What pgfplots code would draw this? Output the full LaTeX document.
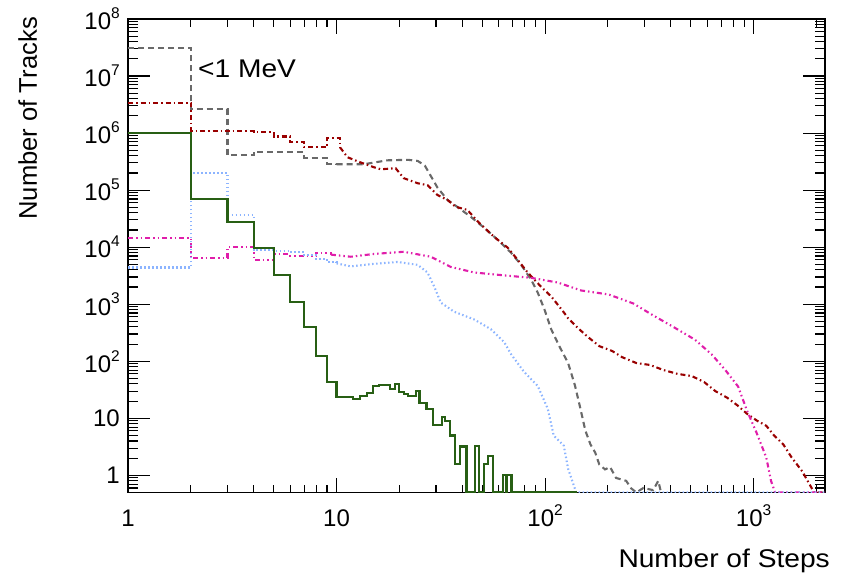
\documentclass[border=0pt]{standalone}
\usepackage{fontspec}
\setmainfont{Liberation Sans}
\newfontfamily\labelfont{Liberation Sans}[FakeStretch=1.1]
\usepackage{pgfplots}
\pgfplotsset{compat=1.18}
\newcommand\ex[1]{10\raisebox{0.46em}{\fontsize{15.5bp}{15.5bp}\selectfont #1}}
\newcommand\ticksize{\fontsize{24bp}{24bp}\selectfont}
\newcommand\labsize{\fontsize{25.6bp}{25.6bp}\selectfont}
\definecolor{cgray}{RGB}{105,105,105}
\definecolor{cred}{RGB}{153,0,0}
\definecolor{cmag}{RGB}{224,30,170}
\definecolor{cblue}{RGB}{140,180,255}
\definecolor{cgreen}{RGB}{40,95,20}
\begin{document}
\begin{tikzpicture}
\begin{axis}[name=ax, at={(0,0)}, anchor=south west, scale only axis,
  width=697bp, height=473.5bp,
  xmode=log, ymode=log, xmin=1, xmax=2200, ymin=0.5, ymax=1e8,
  xtick={1,10,100,1000}, xticklabels={1,10,\ex{2},\ex{3}},
  minor xtick={2,3,4,5,6,7,8,9,20,30,40,50,60,70,80,90,200,300,400,500,600,700,800,900,2000},
  ytick={1,10,100,1e3,1e4,1e5,1e6,1e7,1e8},
  yticklabels={1,10,\ex{2},\ex{3},\ex{4},\ex{5},\ex{6},\ex{7},\ex{8}},
  minor ytick={0.6,0.7,0.8,0.9,2,3,4,5,6,7,8,9,20,30,40,50,60,70,80,90,200,300,400,500,600,700,800,900,
    2e3,3e3,4e3,5e3,6e3,7e3,8e3,9e3,2e4,3e4,4e4,5e4,6e4,7e4,8e4,9e4,2e5,3e5,4e5,5e5,6e5,7e5,8e5,9e5,
    2e6,3e6,4e6,5e6,6e6,7e6,8e6,9e6,2e7,3e7,4e7,5e7,6e7,7e7,8e7,9e7},
  tick align=inside,
  axis line style={line width=1.3bp},
  every tick/.style={black, line width=1.1bp},
  xtick style={/pgfplots/major tick length=15bp,/pgfplots/minor tick length=8bp},
  ytick style={/pgfplots/major tick length=22bp,/pgfplots/minor tick length=10bp},
  xticklabel style={font=\ticksize, anchor=base, inner sep=0pt, yshift=-34bp},
  yticklabel style={font=\ticksize, anchor=east, inner sep=0pt, xshift=-8bp},
]
% gray dashed
\addplot[const plot, cgray, line width=2.1bp, dash pattern=on 6bp off 4bp] coordinates {
(1,3.1e7)(2,2.6e6)(3,4.1e5)(4,4.7e5)(5,4.6e5)(7,3.7e5)(9,2.9e5)(10,2.84e5)};
\addplot[sharp plot, cgray, line width=2.1bp, dash pattern=on 6bp off 4bp] coordinates {
(10,2.84e5)(13.5,2.84e5)(17.5,3.33e5)(22,3.4e5)(24.5,3.25e5)(26.5,2.7e5)(28,1.9e5)(29.4,1.4e5)(30.5,1.1e5)
(34.1,6.7e4)(38,5.06e4)(44.1,3.39e4)(51.1,2.18e4)(59.2,1.35e4)(68.7,7.98e3)(76.7,4.93e3)(85.7,2.7e3)
(92.2,1.6e3)(99.3,811)(107,364)(117,184)(129,93)(139,38)(147,16)(156,6.1)(165,3.5)(174,2.5)(182,1.55)
(194,1.27)(205,1.4)(219,0.9)(245,0.8)(259,0.59)(274,0.5)(296,0.6)(330,0.55)(349,0.8)(360,0.5)};
% dark red dash-dot
\addplot[const plot, cred, line width=2.1bp, dash pattern=on 5bp off 3bp on 1.5bp off 3bp] coordinates {
(1,3.4e6)(2,1.1e6)(3,1.08e6)(4,1.05e6)(5,8.7e5)(6,6.9e5)(7,5.6e5)(9,8.1e5)(10.4,5.6e5)};
\addplot[sharp plot, cred, line width=2.1bp, dash pattern=on 5bp off 3bp on 1.5bp off 3bp] coordinates {
(10.4,5.6e5)(11.3,3.76e5)(13,3.07e5)(15.1,2.52e5)(16.3,2.32e5)(19.2,2.42e5)(21,1.62e5)(24.5,1.32e5)
(27.3,1.22e5)(30.5,8.2e4)(34.1,6.7e4)(37.3,5.1e4)(42.4,4.5e4)(47.8,2.77e4)(56.9,1.52e4)(66.2,9.8e3)
(73.9,6.0e3)(82.5,3.6e3)(95.5,2.04e3)(107,1.37e3)(123,720)(129,566)(144,379)(161,264)(182,184)
(210,151)(234,118)(274,93)(319,86)(370,70)(432,60)(506,55)(580,43)(655,30)(746,23)(834,17)(930,12)
(1037,9.1)(1150,7.4)(1253,5.0)(1387,3.5)(1516,2.1)(1712,1.17)(1952,0.5)(2200,0.5)};
% magenta dash-dot-dot
\addplot[const plot, cmag, line width=2.1bp, dash pattern=on 5bp off 3bp on 1.5bp off 3bp on 1.5bp off 3bp] coordinates {
(1,1.45e4)(2,6.5e3)(3,1.0e4)(4,6.0e3)(5,7.5e3)(6,7.0e3)(8,7.8e3)(9.4,7.4e3)};
\addplot[sharp plot, cmag, line width=2.1bp, dash pattern=on 5bp off 3bp on 1.5bp off 3bp on 1.5bp off 3bp] coordinates {
(9.4,7.4e3)(11.7,6.8e3)(15.1,7.6e3)(21,8.3e3)(28.3,6.8e3)(35.3,4.5e3)(45.7,3.6e3)(63.7,3.2e3)
(85.7,2.9e3)(115,2.4e3)(149,1.74e3)(202,1.48e3)(265,1.03e3)(330,636)(417,390)(522,240)(628,133)
(730,71)(843,36)(930,13.6)(1037,5.4)(1150,2.06)(1212,0.8)(1268,0.5)(2200,0.5)};
% light blue dotted
\addplot[const plot, cblue, line width=2.1bp, dash pattern=on 1.5bp off 2.5bp] coordinates {
(1,4.4e3)(2,2.0e5)(3,3.7e4)(4,8.9e3)(5,8.6e3)(6,8.2e3)(7,7.2e3)(8,6.2e3)(9,5.5e3)(10,5.2e3)};
\addplot[sharp plot, cblue, line width=2.1bp, dash pattern=on 1.5bp off 2.5bp] coordinates {
(10,5.2e3)(11.7,4.6e3)(15.1,5.1e3)(19.6,5.5e3)(24.5,4.9e3)(27.3,3.6e3)(29.4,2.04e3)(31.6,1.07e3)
(36.6,740)(45.7,540)(55,364)(63.7,216)(68.7,133)(79.3,65)(92.2,37)(103,14.7)(110,5)(123,3.3)
(129,1.3)(141,0.5)(2200,0.5)};
% green solid
\addplot[const plot, cgreen, line width=2.1bp] coordinates {
(1,1.02e6)(2,6.9e4)(3,2.8e4)(4,9.8e3)(5,3.3e3)(6,1.1e3)(7,395)(8,123)(9,43)(10,23.8)(12,21.9)
(13,24.8)(14,27.9)(15,37)(16,38.5)(18,32.8)(19,40)(20,29)(21,26.8)(22,24.8)(24,30)(25,18.7)
(27,14.7)(29,7.7)(32,10.7)(33,9.1)(35,5)(37,1.6)(39,3.2)(42,0.5)(46,3.3)(48,0.5)(51,1.6)(53,2.2)
(56,0.5)(63,1)(65,0.5)(66,1)(69,0.5)(142,0.5)};
\node[anchor=base west, font=\labelfont\labsize, inner sep=0pt] at (axis description cs:0.1004,0.8754) {<1 MeV};
\end{axis}
\node[anchor=base east, font=\labelfont\labsize, inner sep=0pt] at ([xshift=5bp,yshift=-74.5bp]ax.south east) {Number of Steps};
\node[anchor=base east, rotate=90, font=\labsize, inner sep=0pt] at ([xshift=-91bp,yshift=2bp]ax.north west) {Number of Tracks};
\pgfresetboundingbox
\path[use as bounding box] (-128bp,-83.5bp) rectangle (713bp,492.5bp);
\end{tikzpicture}
\end{document}
